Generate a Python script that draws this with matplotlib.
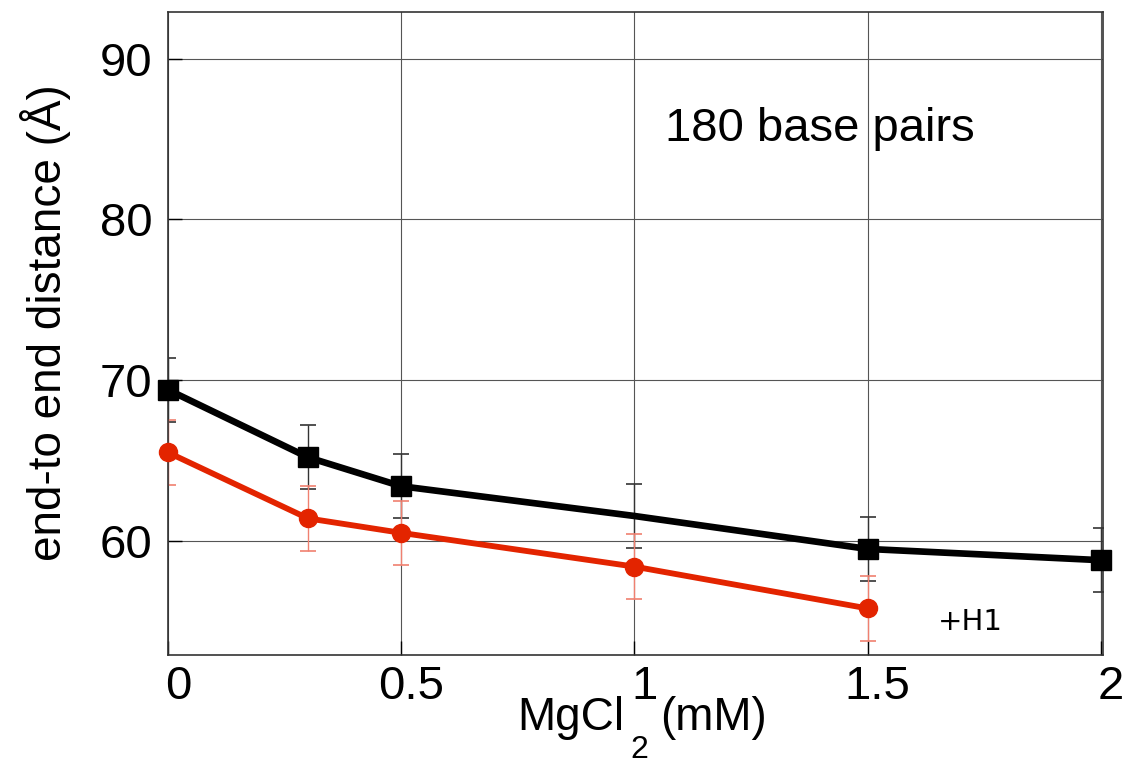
import matplotlib
matplotlib.use("Agg")
import matplotlib.pyplot as plt
import matplotlib.transforms as mtransforms

# MgCl2 concentration (mM) and end-to-end distance (Å)
mg_black = [0.0, 0.3, 0.5, 1.0, 1.5, 2.0]
dist_black = [69.4, 65.2, 63.4, 61.55, 59.5, 58.8]
err_black = [2.0, 2.0, 2.0, 2.0, 2.0, 2.0]
marker_black = [True, True, True, False, True, True]

mg_red = [0.0, 0.3, 0.5, 1.0, 1.5]
dist_red = [65.5, 61.4, 60.5, 58.4, 55.8]
err_red = [2.0, 2.0, 2.0, 2.0, 2.0]

xticks = [0, 0.5, 1, 1.5, 2]
xticklabels = ["0", "0.5", "1", "1.5", "2"]
yticks = [60, 70, 80, 90]

plt.rcParams["font.family"] = ["Liberation Sans", "DejaVu Sans"]

fig = plt.figure(figsize=(11.26, 7.63), dpi=100)
ax = fig.add_axes([0.1492, 0.1415, 0.9796 - 0.1492, 0.9843 - 0.1415])

ax.grid(True, color="#555555", linewidth=0.8, zorder=0)

# error bars
ax.errorbar(mg_black, dist_black, yerr=err_black, fmt="none", ecolor="#333333",
            elinewidth=1.0, capsize=6, capthick=1.2, zorder=2)
ax.errorbar(mg_red, dist_red, yerr=err_red, fmt="none", ecolor="#f08070",
            elinewidth=1.0, capsize=6, capthick=1.2, zorder=2)

# lines
ax.plot(mg_black, dist_black, color="black", linewidth=4.8, zorder=3)
ax.plot(mg_red, dist_red, color="#e32400", linewidth=4.2, zorder=3)

mx = [x for x, m in zip(mg_black, marker_black) if m]
my = [y for y, m in zip(dist_black, marker_black) if m]
ax.plot(mx, my, linestyle="none", marker="s", markersize=14, color="black",
        zorder=4, clip_on=False)
ax.plot(mg_red, dist_red, linestyle="none", marker="o", markersize=13,
        color="#e32400", zorder=4, clip_on=False)

ax.set_xlim(0, 2.005)
ax.set_ylim(52.9, 92.9)

ax.set_xticks(xticks)
ax.set_xticklabels(xticklabels, fontsize=34)
ax.set_yticks(yticks)
ax.set_yticklabels([str(v) for v in yticks], fontsize=34)
ax.tick_params(axis="both", direction="in", length=10, width=1.0, color="black")
ax.tick_params(axis="x", pad=7)
ax.tick_params(axis="y", pad=11)

offset = mtransforms.ScaledTranslation(10 / 100, 0, fig.dpi_scale_trans)
for lbl in ax.get_xticklabels():
    lbl.set_transform(lbl.get_transform() + offset)

for s in ax.spines.values():
    s.set_linewidth(1.2)
    s.set_color("#333333")

ax.set_ylabel("end-to end distance (Å)", fontsize=33)
ax.yaxis.set_label_coords(-0.104, 0.517)

# x-axis label with a dropped subscript
fig.text(517 / 1126, 1 - 718 / 763, "MgCl", fontsize=33, ha="left", va="center")
fig.text(639 / 1126, 1 - 750 / 763, "2", fontsize=23, ha="center", va="center")
fig.text(767 / 1126, 1 - 718 / 763, "(mM)", fontsize=33, ha="right", va="center")

ax.text((665 - 168) / 935, 1 - (129 - 12) / 643, "180 base pairs",
        transform=ax.transAxes, fontsize=34, ha="left", va="center")
ax.text((938 - 168) / 935, 1 - (622 - 12) / 643, "+H1", fontsize=21,
        family="DejaVu Sans", transform=ax.transAxes, ha="left", va="center")

fig.savefig("out.png", dpi=100)
